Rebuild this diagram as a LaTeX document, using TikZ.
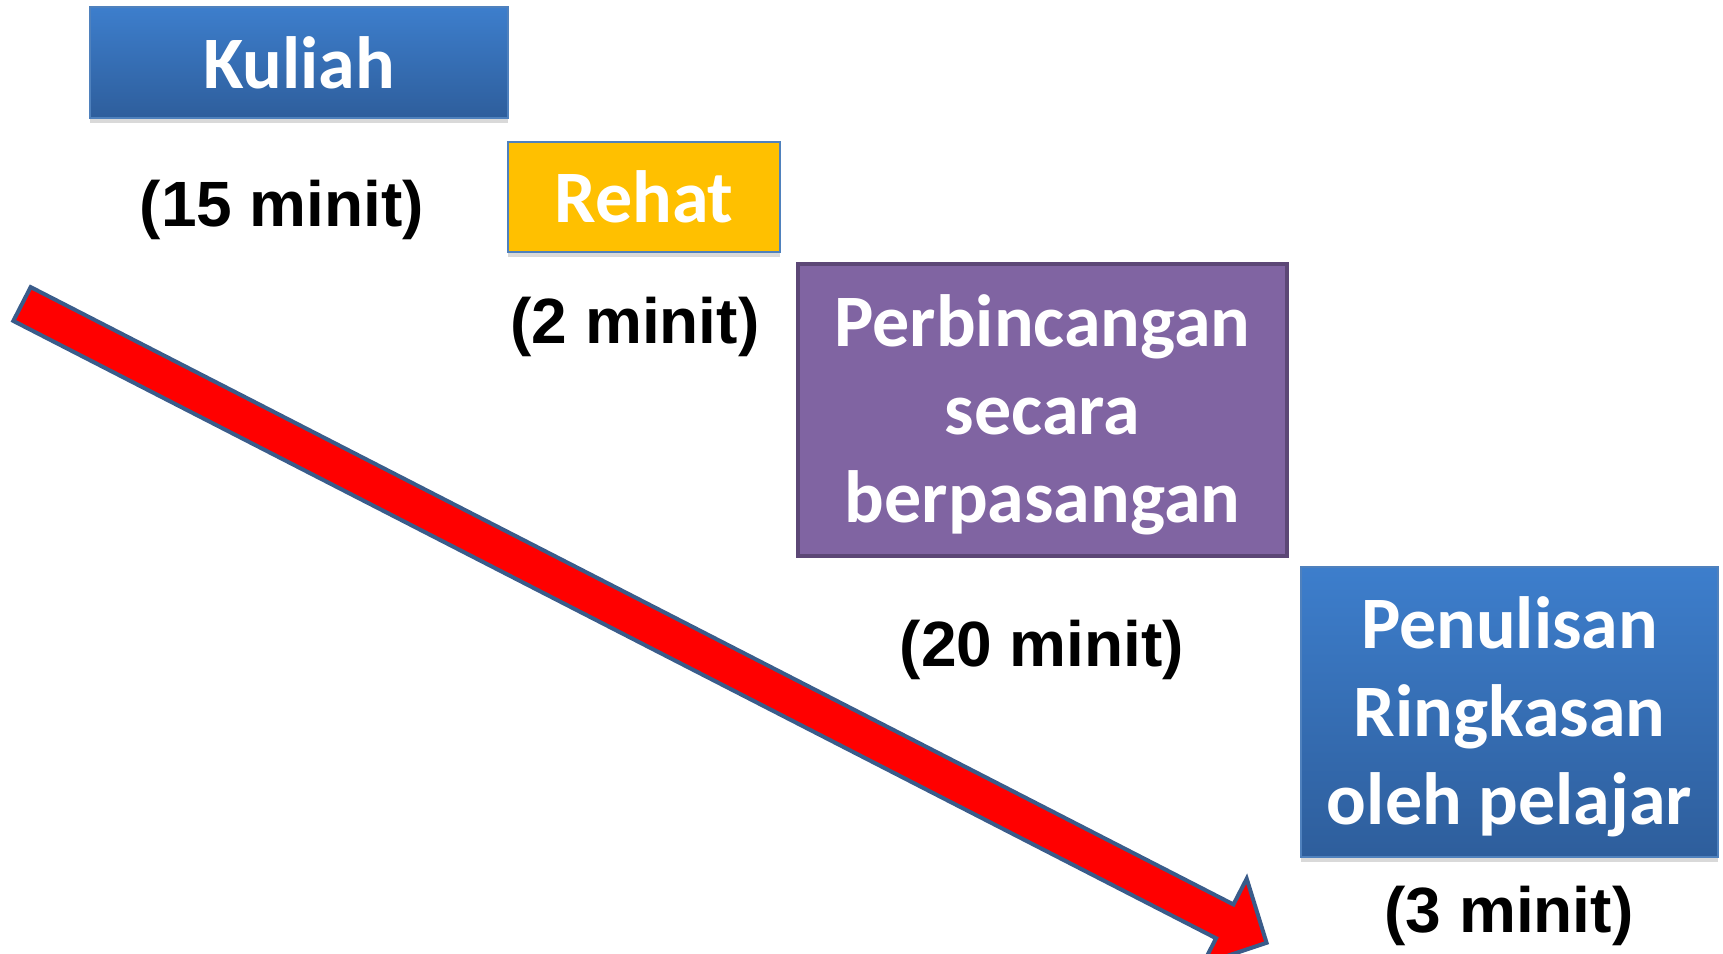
\documentclass[tikz,border=0pt]{standalone}
\usepackage{fontspec}
\setmainfont{Liberation Sans}
\newfontfamily\kotakfont{Carlito}
\usetikzlibrary{shadows}
\definecolor{biruatas}{RGB}{61,126,204}
\definecolor{birubawah}{RGB}{46,94,156}
\definecolor{birugaris}{RGB}{79,129,189}
\definecolor{kuning}{RGB}{255,192,0}
\definecolor{ungu}{RGB}{128,100,162}
\definecolor{ungugaris}{RGB}{92,71,118}
\definecolor{panahgaris}{RGB}{58,92,138}
\newcommand*{\tinggi}{\rule{0pt}{62pt}}

\begin{document}
\begin{tikzpicture}[x=1pt, y=-1pt,
  kotak/.style = {rectangle, align=center, text=white, inner sep=0pt,
    font=\kotakfont\bfseries\fontsize{74}{88}\selectfont},
  bayang/.style = {drop shadow={shadow xshift=0pt, shadow yshift=-5pt, opacity=.3}},
  biru/.style = {kotak, bayang, top color=biruatas, bottom color=birubawah,
    draw=birugaris, line width=1.5pt},
  masa/.style = {font=\bfseries\fontsize{64}{70}\selectfont}]
		\useasboundingbox (0,0) rectangle (1723,953);
		% anak panah merah
		\coordinate (pangkal) at (22,304);
		\coordinate (hujung) at (1269,944);
		\begin{scope}[shift={(pangkal)}, rotate=-27.17]
			\filldraw[fill=red, draw=panahgaris, line width=4pt, line join=miter]
				(0,-19) -- (1352,-19) -- (1352,-48) -- (1399,0)
				-- (1352,48) -- (1352,19) -- (0,19) -- cycle;
		\end{scope}
		% kotak aktiviti
		\node[biru, minimum width=418pt, minimum height=111pt] (kuliah) at (299,62.5) {Kuliah};
		\node[kotak, bayang, fill=kuning, draw=birugaris, line width=1.5pt,
			minimum width=272pt, minimum height=110pt] (rehat) at (644,197) {Rehat};
		\node[kotak, fill=ungu, draw=ungugaris, line width=3.5pt,
			minimum width=489pt, minimum height=292pt] (bincang) at (1042.5,410)
			{\tinggi Perbincangan\\secara\\berpasangan};
		\node[biru, minimum width=417pt, minimum height=290pt] (tulis) at (1509.5,712)
			{\tinggi Penulisan\\Ringkasan\\oleh pelajar};
		% masa
		\node[masa] (m15) at (282,210) {(15 minit)};
		\node[masa] (m2) at (635,327) {(2 minit)};
		\node[masa] (m20) at (1042,650) {(20 minit)};
		\node[masa] (m3) at (1509,916) {(3 minit)};
\end{tikzpicture}
\end{document}
